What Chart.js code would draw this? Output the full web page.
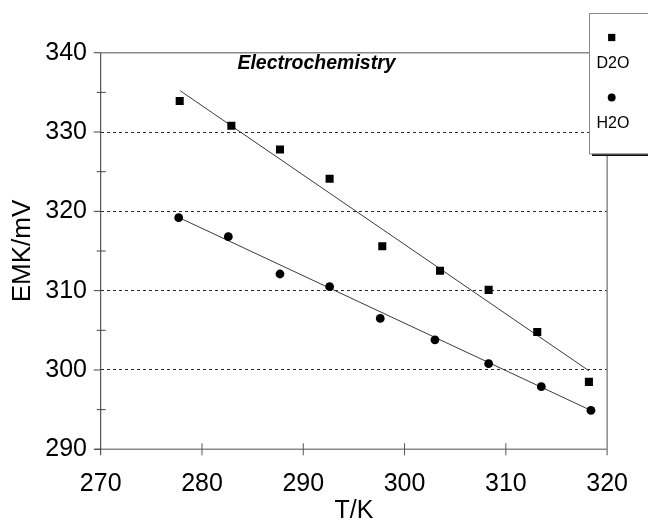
<!DOCTYPE html>
<html>
<head>
<meta charset="utf-8">
<script src="https://cdn.jsdelivr.net/npm/chart.js@4/dist/chart.umd.min.js"></script>
<style>
  html, body { margin: 0; padding: 0; background: #fff; }
  #wrap { position: relative; width: 648px; height: 521px; }
</style>
</head>
<body>
<div id="wrap"><canvas id="c" width="648" height="521"></canvas></div>
<script>
// ---- data ----
const chartTitle = 'Electrochemistry';
const xTitle = 'T/K';
const yTitle = 'EMK/mV';
const seriesNames = ['D2O', 'H2O'];

const tempD2O = [277.8, 282.9, 287.7, 292.6, 297.8, 303.5, 308.3, 313.1, 318.2];
const emkD2O  = [333.9, 330.8, 327.8, 324.1, 315.6, 312.5, 310.1, 304.8, 298.5];
const tempH2O = [277.7, 282.6, 287.7, 292.6, 297.6, 303.0, 308.3, 313.5, 318.4];
const emkH2O  = [319.2, 316.8, 312.1, 310.5, 306.5, 303.8, 300.8, 297.9, 294.9];

// trend lines (end points)
const fitTempD2O = [277.85, 318.2];
const fitEmkD2O  = [335.2, 299.9];
const fitTempH2O = [277.75, 318.4];
const fitEmkH2O  = [319.2, 294.9];

const xMin = 270, xMax = 320, xStep = 10;
const yMin = 290, yMax = 340, yStep = 10;
const yGridValues = [300, 310, 320, 330];
const yMinorTicks = [295, 305, 315, 325, 335];
const xInnerTicks = [280, 290, 300, 310];

const FONT = "'Liberation Sans', Arial, Helvetica, sans-serif";
const pts = (xs, ys) => xs.map((x, i) => ({ x: x, y: ys[i] }));

// ---- custom drawing: frame, ticks, legend box, inner title ----
const decorPlugin = {
  id: 'decor',
  afterDraw(chart) {
    const ctx = chart.ctx;
    const xs = chart.scales.x, ys = chart.scales.y;
    const L = xs.left, R = xs.right, T = ys.top, B = ys.bottom;
    ctx.save();
    // top border
    ctx.strokeStyle = '#8a8a8a'; ctx.lineWidth = 1.5;
    ctx.beginPath(); ctx.moveTo(L, T); ctx.lineTo(R, T); ctx.stroke();
    // right border
    ctx.beginPath(); ctx.moveTo(R, T); ctx.lineTo(R, B + 6); ctx.stroke();
    // bottom axis
    ctx.strokeStyle = '#8a8a8a'; ctx.lineWidth = 1.5;
    ctx.beginPath(); ctx.moveTo(L - 6, B); ctx.lineTo(R, B); ctx.stroke();
    // left axis
    ctx.strokeStyle = '#333'; ctx.lineWidth = 1;
    ctx.beginPath(); ctx.moveTo(L, T); ctx.lineTo(L, B + 6); ctx.stroke();
    // y major ticks (outside)
    ctx.strokeStyle = '#444';
    for (let v = yMin; v <= yMax; v += yStep) {
      const p = ys.getPixelForValue(v);
      ctx.beginPath(); ctx.moveTo(L - 7, p); ctx.lineTo(L, p); ctx.stroke();
    }
    // y minor ticks (cross)
    yMinorTicks.forEach(v => {
      const p = ys.getPixelForValue(v);
      ctx.beginPath(); ctx.moveTo(L - 4, p); ctx.lineTo(L + 5, p); ctx.stroke();
    });
    // x ticks (cross)
    ctx.strokeStyle = '#555';
    xInnerTicks.forEach(v => {
      const p = xs.getPixelForValue(v);
      ctx.beginPath(); ctx.moveTo(p, B - 6); ctx.lineTo(p, B + 6); ctx.stroke();
    });

    // inner title
    ctx.fillStyle = '#000';
    ctx.font = "italic bold 19.5px " + FONT;
    ctx.textAlign = 'center'; ctx.textBaseline = 'middle';
    ctx.fillText(chartTitle, 316.5, 63.5);

    // legend box with shadow
    const bx = 589, by = 13, bw = 70, bh = 140.5;
    ctx.fillStyle = '#111';
    ctx.fillRect(bx + 3, by + bh, bw, 2.5);
    ctx.fillStyle = '#fff';
    ctx.fillRect(bx, by, bw, bh);
    ctx.strokeStyle = '#8a8a8a'; ctx.lineWidth = 1;
    ctx.strokeRect(bx + 0.5, by + 0.5, bw, bh);

    // legend entries (marker above label)
    ctx.font = "16px " + FONT;
    ctx.textAlign = 'left'; ctx.textBaseline = 'middle';
    seriesNames.forEach((name, i) => {
      const ds = chart.data.datasets[i];
      const my = 37.5 + i * 60;
      ctx.fillStyle = '#000';
      Chart.helpers.drawPoint(ctx, {
        pointStyle: ds.pointStyle, radius: ds.pointRadius * 0.9, rotation: 0, borderWidth: 0
      }, 611.7, my);
      ctx.fillText(name, 596.5, my + 26);
    });
    ctx.restore();
  }
};

new Chart(document.getElementById('c'), {
  type: 'scatter',
  data: {
    datasets: [
      { label: seriesNames[0], data: pts(tempD2O, emkD2O), pointStyle: 'rect', pointRadius: 5.7,
        backgroundColor: '#000', borderColor: '#000', borderWidth: 0, showLine: false },
      { label: seriesNames[1], data: pts(tempH2O, emkH2O), pointStyle: 'circle', pointRadius: 4.4,
        backgroundColor: '#000', borderColor: '#000', borderWidth: 0, showLine: false },
      { label: 'fit D2O', data: pts(fitTempD2O, fitEmkD2O), showLine: true, pointRadius: 0,
        borderColor: '#3a3a3a', borderWidth: 1, fill: false },
      { label: 'fit H2O', data: pts(fitTempH2O, fitEmkH2O), showLine: true, pointRadius: 0,
        borderColor: '#3a3a3a', borderWidth: 1, fill: false }
    ]
  },
  options: {
    responsive: false,
    devicePixelRatio: 1,
    animation: false,
    layout: { padding: { top: 52.7, right: 27.3, left: 0, bottom: 0 } },
    plugins: { legend: { display: false }, tooltip: { enabled: false }, title: { display: false } },
    scales: {
      x: {
        type: 'linear', min: xMin, max: xMax,
        ticks: { stepSize: xStep, color: '#000', padding: 20, font: { family: FONT, size: 25 }, maxRotation: 0 },
        grid: { display: false, drawTicks: false, tickLength: 0 },
        border: { display: false },
        title: { display: true, text: xTitle, color: '#000', font: { family: FONT, size: 25, lineHeight: 0.8 }, padding: 0 },
        afterFit: s => { s.height = 71.7; }
      },
      y: {
        type: 'linear', min: yMin, max: yMax,
        ticks: { stepSize: yStep, color: '#000', padding: 13.7, font: { family: FONT, size: 25 } },
        grid: {
          drawTicks: false, tickLength: 0, lineWidth: 1,
          color: c => (c.tick && yGridValues.includes(c.tick.value)) ? '#2a2a2a' : 'rgba(0,0,0,0)'
        },
        border: { display: false, dash: [3, 3] },
        title: { display: true, text: yTitle, color: '#000', font: { family: FONT, size: 26, lineHeight: 1 }, padding: { top: 10, bottom: 0 } },
        afterFit: s => { s.width = 100.7; }
      }
    }
  },
  plugins: [decorPlugin]
});
</script>
</body>
</html>
